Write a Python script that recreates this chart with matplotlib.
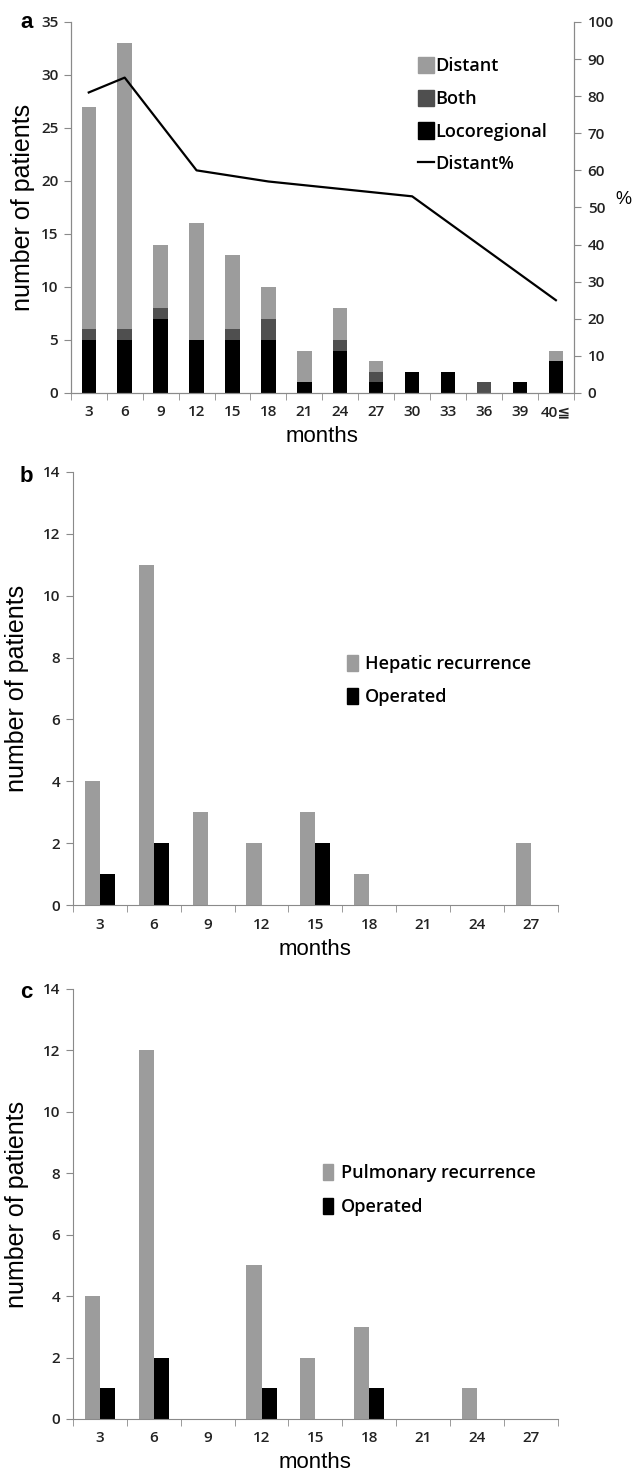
import numpy as np
import matplotlib.pyplot as plt
from matplotlib.patches import Patch
from matplotlib.lines import Line2D

# panel a: recurrence pattern by months
months_a = ["3", "6", "9", "12", "15", "18", "21", "24", "27", "30", "33", "36", "39", "40≦"]
locoregional = [5, 5, 7, 5, 5, 5, 1, 4, 1, 2, 2, 0, 1, 3]
both = [1, 1, 1, 0, 1, 2, 0, 1, 1, 0, 0, 1, 0, 0]
distant = [21, 27, 6, 11, 7, 3, 3, 3, 1, 0, 0, 0, 0, 1]
# Distant% line (only the visible vertices)
pct_months = ["3", "6", "12", "15", "18", "21", "24", "27", "30", "40≦"]
distant_pct = [81, 85, 60, 58.5, 57, 56, 55, 54, 53, 25]

# panel b: hepatic recurrence
months_bc = ["3", "6", "9", "12", "15", "18", "21", "24", "27"]
hepatic = [4, 11, 3, 2, 3, 1, 0, 0, 2]
hepatic_op = [1, 2, 0, 0, 2, 0, 0, 0, 0]

# panel c: pulmonary recurrence
pulmonary = [4, 12, 0, 5, 2, 3, 0, 1, 0]
pulmonary_op = [1, 2, 0, 1, 0, 1, 0, 0, 0]

GRAY = "#9c9c9c"
DARK = "#4f4f4f"
AXC = "#8a8a8a"
TICKFONT = ["Open Sans", "DejaVu Sans"]
LABFONT = ["Liberation Sans", "DejaVu Sans"]
TW = 600  # semibold, Calibri-like look

fig = plt.figure(figsize=(6.32, 14.75), dpi=100)


def fmt_labels(labels, size=11):
    for lab in labels:
        lab.set_family(TICKFONT)
        lab.set_fontsize(size)
        lab.set_fontweight(TW)
        lab.set_color("#222222")


def style_axis(ax, n, right=False):
    ax.set_xlim(-0.5, n - 0.5)
    ax.set_xticks(np.arange(n + 1) - 0.5, minor=True)
    ax.tick_params(axis="x", which="major", length=0, pad=9)
    ax.tick_params(axis="x", which="minor", length=5, direction="out", color=AXC)
    ax.tick_params(axis="y", length=5, direction="out", color=AXC, pad=4)
    ax.spines["top"].set_visible(False)
    if not right:
        ax.spines["right"].set_visible(False)
    for s in ax.spines.values():
        s.set_color(AXC)
    fmt_labels(ax.get_yticklabels())
    fmt_labels(ax.get_xticklabels())


# ---- a
ax = fig.add_axes([0.112, 0.7336, 0.796, 0.2515])
x = np.arange(len(months_a))
w = 0.4
loc = np.array(locoregional)
bo = np.array(both)
di = np.array(distant)
ax.bar(x, loc, w, color="black")
ax.bar(x, bo, w, bottom=loc, color=DARK)
ax.bar(x, di, w, bottom=loc + bo, color=GRAY)
ax.set_ylim(0, 35)
ax.set_yticks(range(0, 36, 5))
ax.set_xticks(x)
ax.set_xticklabels(months_a)
style_axis(ax, len(months_a), right=True)
ax.set_xlabel("months", family=LABFONT, fontsize=16, labelpad=5)
ax.set_ylabel("number of patients", family=LABFONT, fontsize=18, labelpad=4)

ax2 = ax.twinx()
px = [months_a.index(m) for m in pct_months]
ax2.plot(px, distant_pct, color="black", lw=1.6)
ax2.set_ylim(0, 100)
ax2.set_yticks(range(0, 101, 10))
ax2.spines["top"].set_visible(False)
for s in ax2.spines.values():
    s.set_color(AXC)
ax2.tick_params(axis="y", length=5, direction="out", color=AXC, pad=5)
fmt_labels(ax2.get_yticklabels())
fig.text(623 / 632, 1 - 200 / 1475, "%", family=LABFONT, fontsize=13, ha="center", va="center")

handles = [Patch(color=GRAY), Patch(color=DARK), Patch(color="black"),
           Line2D([], [], color="black", lw=1.6)]
ax.legend(handles, ["Distant", "Both", "Locoregional", "Distant%"],
          loc="upper left", bbox_to_anchor=(0.675, 0.925), frameon=False,
          prop={"family": TICKFONT, "size": 13, "weight": TW}, handlelength=0.9,
          handleheight=1.0, handletextpad=0.1, labelspacing=0.8, borderaxespad=0)
fig.text(20 / 632, 1 - 22 / 1475, "a", fontsize=16, fontweight="bold",
         family=LABFONT, ha="left", va="center")


def panel(rect, vals, ops, name, leg_anchor, letter, ly):
    ax = fig.add_axes(rect)
    x = np.arange(len(months_bc))
    w = 0.28
    ax.bar(x - w / 2, vals, w, color=GRAY)
    ax.bar(x + w / 2, ops, w, color="black")
    ax.set_ylim(0, 14)
    ax.set_yticks(range(0, 15, 2))
    ax.set_xticks(x)
    ax.set_xticklabels(months_bc)
    style_axis(ax, len(months_bc))
    ax.set_xlabel("months", family=LABFONT, fontsize=16, labelpad=5)
    ax.set_ylabel("number of patients", family=LABFONT, fontsize=18, labelpad=10)
    ax.legend([Patch(color=GRAY), Patch(color="black")], [name, "Operated"],
              loc="upper left", bbox_to_anchor=leg_anchor, frameon=False,
              prop={"family": TICKFONT, "size": 13, "weight": TW}, handlelength=0.6,
              handleheight=1.0, handletextpad=0.4, labelspacing=0.85, borderaxespad=0)
    fig.text(20 / 632, 1 - ly / 1475, letter, fontsize=16, fontweight="bold",
             family=LABFONT, ha="left", va="center")
    return ax


panel([0.1155, 0.3864, 0.767, 0.2936], hepatic, hepatic_op, "Hepatic recurrence",
      (0.55, 0.595), "b", 477)
panel([0.1155, 0.038, 0.767, 0.2915], pulmonary, pulmonary_op, "Pulmonary recurrence",
      (0.50, 0.61), "c", 993)

fig.savefig("out.png", dpi=100)
